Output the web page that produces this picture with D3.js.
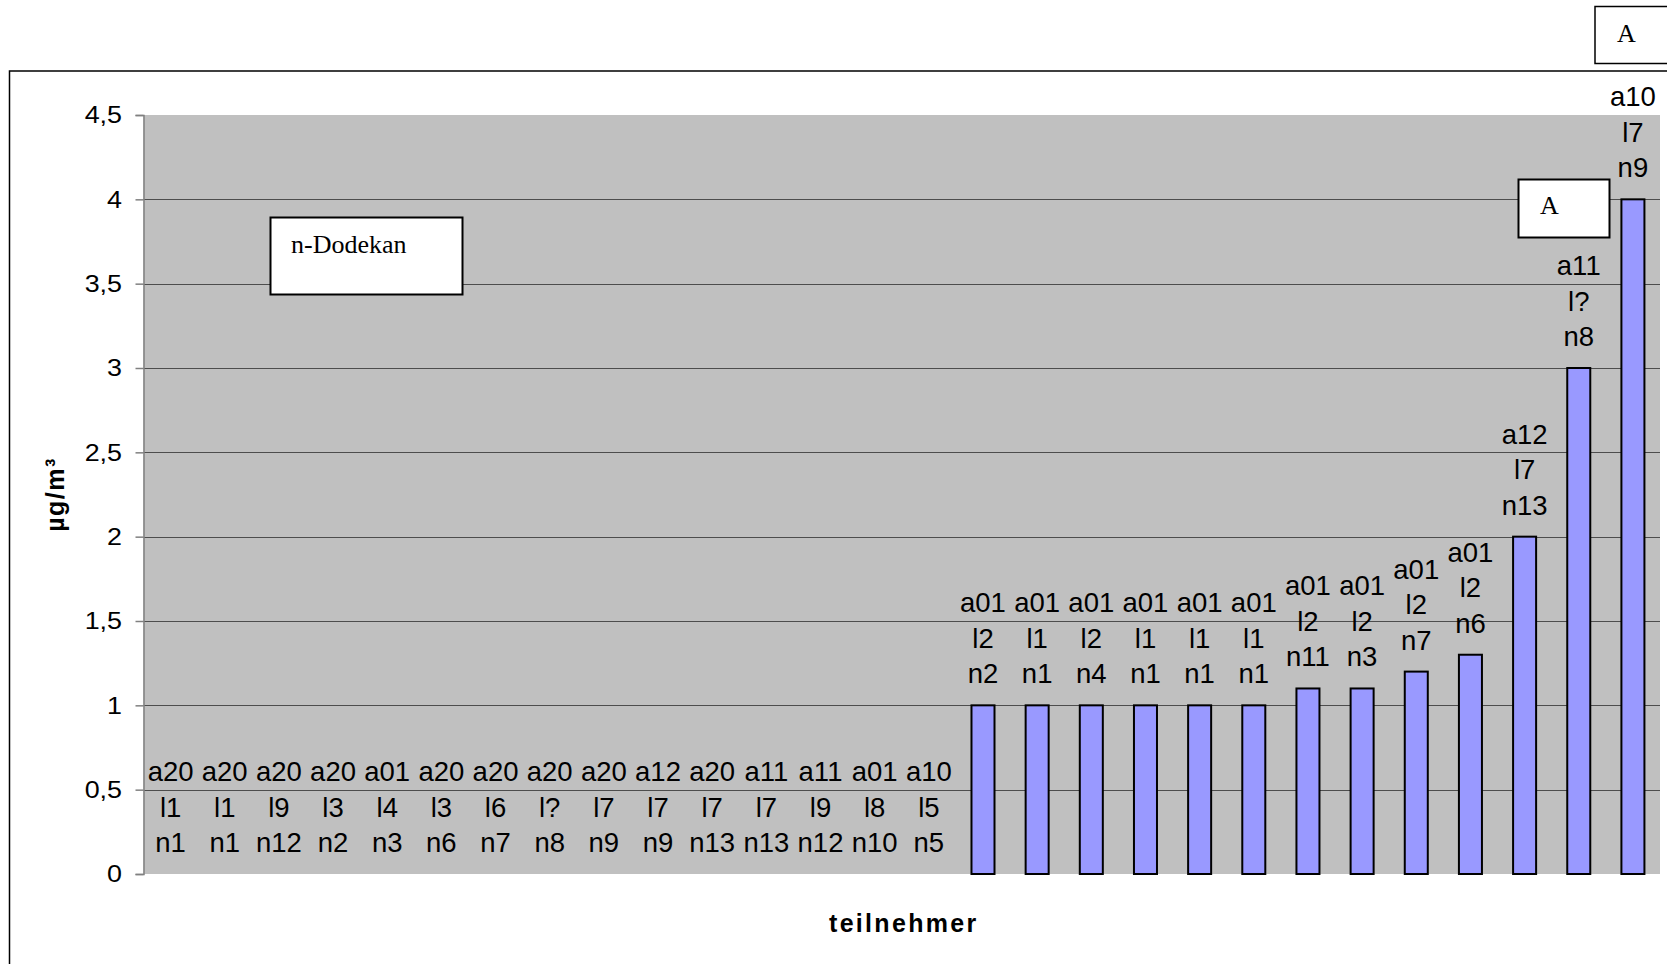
<!DOCTYPE html>
<html>
<head>
<meta charset="utf-8">
<script src="https://cdn.jsdelivr.net/npm/d3@7/dist/d3.min.js"></script>
<style>
	html, body { margin: 0; padding: 0; background: #fff; overflow: hidden; }
	svg { display: block; }
</style>
</head>
<body>
<svg id="chart" width="1667" height="964"></svg>
<script>
// Participant codes (three lines per bar)
var codesA = ["a20","a20","a20","a20","a01","a20","a20","a20","a20","a12","a20","a11","a11","a01","a10",
	"a01","a01","a01","a01","a01","a01","a01","a01","a01","a01","a12","a11","a10"];
var codesL = ["l1","l1","l9","l3","l4","l3","l6","l?","l7","l7","l7","l7","l9","l8","l5",
	"l2","l1","l2","l1","l1","l1","l2","l2","l2","l2","l7","l?","l7"];
var codesN = ["n1","n1","n12","n2","n3","n6","n7","n8","n9","n9","n13","n13","n12","n10","n5",
	"n2","n1","n4","n1","n1","n1","n11","n3","n7","n6","n13","n8","n9"];

// Measured values in µg/m³
var values = [0,0,0,0,0,0,0,0,0,0,0,0,0,0,0,
	1,1,1,1,1,1,1.1,1.1,1.2,1.3,2,3,4];

// Y axis ticks
var yTicks = [0,0.5,1,1.5,2,2.5,3,3.5,4,4.5];
var yTickLabels = ["0","0,5","1","1,5","2","2,5","3","3,5","4","4,5"];

var svg = d3.select("#chart");

// Plot geometry
var plot = { left: 143.5, right: 1660, top: 115, bottom: 874 };

var x = d3.scaleBand()
	.domain(d3.range(values.length))
	.range([plot.left, plot.right])
	.paddingInner(0.575)
	.paddingOuter(0.2875);

var y = d3.scaleLinear()
	.domain([0, 4.5])
	.range([plot.bottom, plot.top]);

// Outer chart frame
svg.append("rect")
	.attr("x", 9.5).attr("y", 71)
	.attr("width", 1700).attr("height", 1000)
	.attr("fill", "none").attr("stroke", "#000").attr("stroke-width", 1.5);

// Top "A" box
svg.append("rect")
	.attr("x", 1595).attr("y", 6.5)
	.attr("width", 100).attr("height", 57)
	.attr("fill", "#fff").attr("stroke", "#000").attr("stroke-width", 1.5);
svg.append("text")
	.attr("x", 1617).attr("y", 42)
	.style("font", "26px 'Liberation Serif'")
	.text("A");

// Plot background
svg.append("rect")
	.attr("x", plot.left).attr("y", plot.top)
	.attr("width", plot.right - plot.left).attr("height", plot.bottom - plot.top)
	.attr("fill", "#c0c0c0");

// Gridlines
svg.append("g")
	.selectAll("line")
	.data(yTicks.filter(function(d) { return d > 0 && d < 4.5; }))
	.enter().append("line")
		.attr("x1", plot.left).attr("x2", plot.right)
		.attr("y1", function(d) { return Math.round(y(d)) + 0.5; })
		.attr("y2", function(d) { return Math.round(y(d)) + 0.5; })
		.attr("stroke", "#4d4d4d").attr("stroke-width", 1.2);

// Y Axis (labels are drawn a bit wide, as in the original)
var tickScaleX = 1.12;
var yAxis = svg.append("g")
	.attr("transform", "translate(" + plot.left + ",0)")
	.call(d3.axisLeft(y).tickValues(yTicks).tickSize(8).tickPadding(12)
		.tickFormat(function(d, i) { return yTickLabels[i]; }));
yAxis.select(".domain").attr("stroke", "#808080").attr("stroke-width", 1.5);
yAxis.selectAll(".tick line").attr("stroke", "#808080").attr("stroke-width", 1.5);
yAxis.selectAll(".tick text")
	.attr("fill", "#000")
	.attr("x", -21.5 / tickScaleX)
	.attr("transform", "scale(" + tickScaleX + ",1)")
	.style("font", "24px 'Liberation Sans'");

// Y axis title
svg.append("text")
	.attr("transform", "translate(64," + ((plot.top + plot.bottom) / 2) + ") rotate(-90)")
	.attr("text-anchor", "middle")
	.style("font", "bold 25px 'Liberation Sans'")
	.style("letter-spacing", "1.5px")
	.text("µg/m³");

// X axis title
svg.append("text")
	.attr("x", (plot.left + plot.right) / 2 + 2)
	.attr("y", 932)
	.attr("text-anchor", "middle")
	.style("font", "bold 25px 'Liberation Sans'")
	.style("letter-spacing", "2.3px")
	.text("teilnehmer");

// Bars
svg.append("g")
	.selectAll("rect")
	.data(values.map(function(v, i) { return { i: i, v: v }; }).filter(function(d) { return d.v > 0; }))
	.enter().append("rect")
		.attr("x", function(d) { return x(d.i); })
		.attr("y", function(d) { return y(d.v); })
		.attr("width", x.bandwidth())
		.attr("height", function(d) { return y(0) - y(d.v); })
		.attr("fill", "#9999ff")
		.attr("stroke", "#000")
		.attr("stroke-width", 2);

// Data labels (three lines above each bar)
var labels = svg.append("g")
	.selectAll("text")
	.data(values)
	.enter().append("text")
		.attr("text-anchor", "middle")
		.style("font", "27.5px 'Liberation Sans'");

labels.each(function(v, i) {
	var t = d3.select(this);
	var lines = [codesA[i], codesL[i], codesN[i]];
	lines.forEach(function(s, k) {
		t.append("tspan")
			.attr("x", x(i) + x.bandwidth() / 2)
			.attr("y", y(v) - 22 - (2 - k) * 35.5)
			.text(s);
	});
});

// Annotation boxes
svg.append("rect")
	.attr("x", 270.5).attr("y", 217.5)
	.attr("width", 192).attr("height", 77)
	.attr("fill", "#fff").attr("stroke", "#000").attr("stroke-width", 2);
svg.append("text")
	.attr("x", 291).attr("y", 253)
	.style("font", "26px 'Liberation Serif'")
	.text("n-Dodekan");

svg.append("rect")
	.attr("x", 1518.5).attr("y", 179.5)
	.attr("width", 91).attr("height", 58)
	.attr("fill", "#fff").attr("stroke", "#000").attr("stroke-width", 2);
svg.append("text")
	.attr("x", 1540).attr("y", 214)
	.style("font", "26px 'Liberation Serif'")
	.text("A");
</script>
</body>
</html>
